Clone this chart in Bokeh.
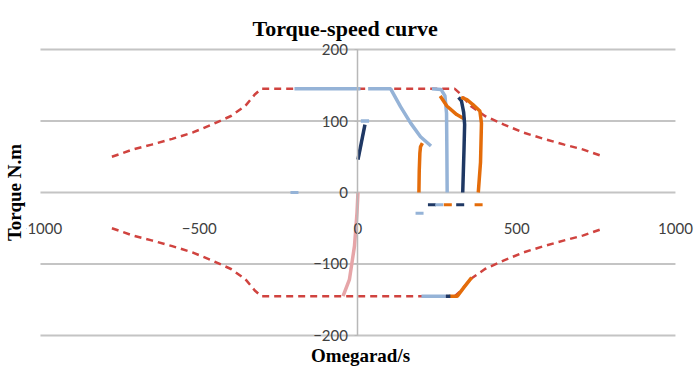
from bokeh.plotting import figure
from bokeh.models import Range1d, LinearAxis, FixedTicker
from bokeh.embed import file_html
from bokeh.resources import INLINE

# Axis ticks
x_ticks = [-1000, -500, 0, 500, 1000]
y_ticks = [-200, -100, 0, 100, 200]

# Torque limit envelope (dashed), upper and lower branches
env_w = [-775, -710, -650, -585, -520, -460, -400, -355, -325, -305,
         305, 325, 355, 400, 460, 520, 585, 650, 710, 775]
env_upper = [50, 60, 67, 75, 84, 95, 107, 121, 137, 145,
             145, 137, 121, 107, 95, 84, 75, 67, 60, 50]
env_lower = [-t for t in env_upper]

# Reverse-braking trace
pink_w = [0, -3, -11, -27, -47]
pink_t = [0, -28, -75, -122, -145]

# Light-blue traces
blue_flat_w = [-200, 8]
blue_flat_t = [145, 145]
blue_curve_w = [32, 103, 134, 166, 197, 230]
blue_curve_t = [145, 145, 120, 97, 78, 65]
blue_short_w = [9, 35]
blue_short_t = [100, 100]
blue_vert_w = [233, 262, 274, 279, 280, 281]
blue_vert_t = [145, 144, 135, 111, 60, 0]
blue_low_w = [200, 277]
blue_low_t = [-145, -145]

# Navy traces
navy_start_w = [0, 22]
navy_start_t = [46, 95]
navy_vert_w = [317, 326, 333, 336, 334, 330]
navy_vert_t = [133, 128, 112, 95, 60, 0]
navy_low_w = [277, 291]
navy_low_t = [-145, -145]

# Orange traces
orange1_w = [192, 193, 195, 197, 203]
orange1_t = [0, 30, 55, 64, 69]
orange2_w = [259, 280, 311, 338]
orange2_t = [135, 121, 109, 102]
orange3_w = [325, 343, 362, 384, 389, 386, 379]
orange3_t = [133, 130, 123, 114, 97, 42, 0]
orange_low_w = [288, 313, 335, 358]
orange_low_t = [-145, -145, -132, -119]

# Isolated operating points
pt_navy_w = [233, 322]
pt_navy_t = [-17, -17]
pt_blue_w = [256, 194, -200]
pt_blue_t = [-17, -29, 0]
pt_orange_w = [283, 380]
pt_orange_t = [-17, -17]

RED = "#d0433f"
BLUE = "#95b3d7"
NAVY = "#1f3864"
ORANGE = "#e46c0a"
PINK = "#e6a5a8"
GRID = "#c4c4c4"
LABEL = "#404040"

# The frame is a little wider than the ±1000 / ±200 box so that the
# end tick labels are not clipped; gridlines and axis are bounded to the box.
p = figure(width=694, height=368, output_backend="svg", toolbar_location=None,
           x_range=Range1d(-1044, 1060), y_range=Range1d(-212.6, 212.6),
           x_axis_location=None, y_axis_location=None,
           min_border_left=26, min_border_right=0,
           min_border_top=40, min_border_bottom=24,
           background_fill_color="white", border_fill_color="white")
p.outline_line_color = None
p.grid.visible = False

p.title.text = "Torque-speed curve"
p.title.align = "left"
p.title.offset = 226
p.title.text_font = "Liberation Serif"
p.title.text_font_style = "bold"
p.title.text_font_size = "22px"
p.title.text_color = "black"
p.title.standoff = 0

# Horizontal gridlines across the ±1000 span
p.segment(x0=[x_ticks[0]] * len(y_ticks), x1=[x_ticks[-1]] * len(y_ticks),
          y0=y_ticks, y1=y_ticks, line_color=GRID, line_width=2)

# Axes crossing at the origin
xaxis = LinearAxis(fixed_location=0, ticker=FixedTicker(ticks=x_ticks),
                   bounds=(x_ticks[0], x_ticks[-1]),
                   axis_line_color=None, major_tick_line_color=None,
                   minor_tick_line_color=None, major_label_standoff=24,
                   major_label_text_font="Lato", major_label_text_font_size="15px",
                   major_label_text_color=LABEL)
p.add_layout(xaxis, "below")
yaxis = LinearAxis(fixed_location=0, ticker=FixedTicker(ticks=y_ticks),
                   bounds=(y_ticks[0], y_ticks[-1]),
                   axis_line_color="#b8b8b8", axis_line_width=1.5,
                   major_tick_line_color="#b8b8b8", major_tick_out=3, major_tick_in=0,
                   minor_tick_line_color=None, major_label_standoff=7,
                   major_label_text_font="Lato", major_label_text_font_size="15px",
                   major_label_text_color=LABEL)
p.add_layout(yaxis, "left")

# Axis titles on the outer edges
xt = LinearAxis(ticker=FixedTicker(ticks=[]), axis_label="Omegarad/s",
                axis_line_color=None, major_tick_line_color=None,
                minor_tick_line_color=None, axis_label_standoff=0,
                axis_label_text_font="Liberation Serif", axis_label_text_font_style="bold",
                axis_label_text_font_size="19px", axis_label_text_color="black")
p.add_layout(xt, "below")
yt = LinearAxis(ticker=FixedTicker(ticks=[]), axis_label="Torque N.m",
                axis_line_color=None, major_tick_line_color=None,
                minor_tick_line_color=None, axis_label_standoff=2,
                axis_label_text_font="Liberation Serif", axis_label_text_font_style="bold",
                axis_label_text_font_size="19px", axis_label_text_color="black")
p.add_layout(yt, "left")

# Envelope
p.line(env_w, env_upper, line_color=RED, line_width=2.5, line_dash="7 5")
p.line(env_w, env_lower, line_color=RED, line_width=2.5, line_dash="7 5")

W = 3.5
p.line(pink_w, pink_t, line_color=PINK, line_width=W)

p.line(blue_flat_w, blue_flat_t, line_color=BLUE, line_width=W)
p.line(blue_curve_w, blue_curve_t, line_color=BLUE, line_width=W)
p.line(blue_short_w, blue_short_t, line_color=BLUE, line_width=W)
p.line(blue_low_w, blue_low_t, line_color=BLUE, line_width=W)

p.line(orange1_w, orange1_t, line_color=ORANGE, line_width=W)
p.line(blue_vert_w, blue_vert_t, line_color=BLUE, line_width=W)
p.line(orange2_w, orange2_t, line_color=ORANGE, line_width=W)
p.line(navy_vert_w, navy_vert_t, line_color=NAVY, line_width=W)
p.line(orange3_w, orange3_t, line_color=ORANGE, line_width=W)
p.line(orange_low_w, orange_low_t, line_color=ORANGE, line_width=W)

p.line(navy_start_w, navy_start_t, line_color=NAVY, line_width=W)
p.line(navy_low_w, navy_low_t, line_color=NAVY, line_width=W)

p.scatter(pt_navy_w, pt_navy_t, marker="dash", size=8, line_color=NAVY, line_width=3)
p.scatter(pt_blue_w, pt_blue_t, marker="dash", size=8, line_color=BLUE, line_width=3)
p.scatter(pt_orange_w, pt_orange_t, marker="dash", size=8, line_color=ORANGE, line_width=3)

open("out.html", "w").write(file_html(p, INLINE))
